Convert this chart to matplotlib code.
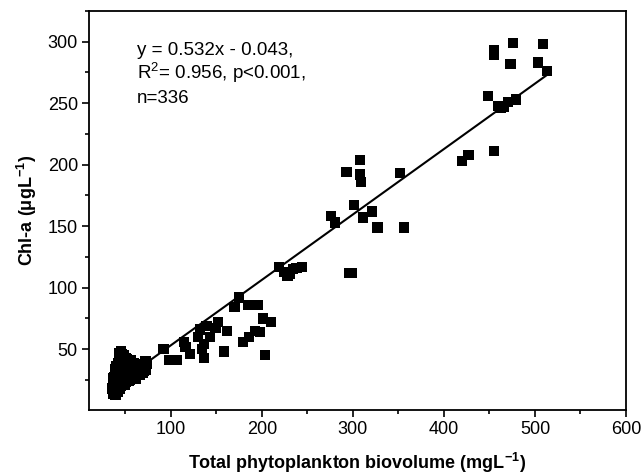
import matplotlib
matplotlib.use("Agg")
import matplotlib.pyplot as plt
import numpy as np
from matplotlib.ticker import MultipleLocator

plt.rcParams['font.family'] = ['Liberation Sans', 'DejaVu Sans']
plt.rcParams['mathtext.fontset'] = 'custom'
plt.rcParams['mathtext.rm'] = 'Liberation Sans'
plt.rcParams['mathtext.bf'] = 'Liberation Sans:bold'
plt.rcParams['mathtext.it'] = 'Liberation Sans:italic'

# ---- data ----
biovolume = [
    # dense low cluster
    35, 36, 37, 38, 38, 39, 40, 40, 41, 41, 42, 42, 43, 43, 44, 44, 45, 45, 46, 46,
    47, 47, 48, 48, 49, 49, 50, 50, 51, 51, 52, 52, 53, 54, 55, 56, 57, 58, 60, 62,
    64, 66, 68, 70, 72, 38, 40, 42, 44, 46, 48, 50, 45, 47, 43, 39, 41, 55, 58, 63,
    36, 37, 39, 42, 44, 48, 50, 53, 56, 59, 61, 63, 65, 67, 69, 71, 73, 74, 52, 54,
    57, 60, 62, 66, 70, 72, 49, 51, 45, 43,
    # low-mid
    92, 98, 106, 114, 116, 121, 130, 132, 134, 136, 136, 139, 143, 149, 152, 158, 162,
    170, 175, 179, 185, 186, 192, 196, 198, 201, 203, 210,
    # ~220-245
    219, 224, 228, 231, 234, 238, 244,
    # mid cluster
    276, 280, 293, 296, 299, 301, 308, 308, 309, 311, 321, 327, 352, 356,
    # upper
    420, 427, 455, 448, 455, 455, 459, 463, 466, 470, 473, 476, 479, 503, 509, 513,
]
chla = [
    # dense low cluster
    18, 22, 20, 25, 16, 28, 19, 32, 24, 17, 30, 21, 26, 35, 23, 38, 20, 29, 33, 41,
    25, 44, 36, 22, 30, 40, 27, 35, 38, 31, 29, 42, 34, 37, 30, 36, 32, 28, 38, 34,
    30, 36, 33, 37, 40, 27, 36, 39, 31, 46, 33, 28, 48, 37, 27, 34, 24, 25, 31, 35,
    14, 26, 13, 15, 18, 45, 43, 40, 41, 39, 37, 33, 29, 34, 31, 36, 33, 38, 26, 24,
    27, 30, 26, 29, 32, 35, 21, 23, 42, 47,
    # low-mid
    50, 41, 41, 56, 52, 46, 60, 66, 50, 54, 43, 69, 60, 67, 72, 48, 65,
    84, 92, 56, 86, 60, 65, 86, 64, 75, 45, 72,
    # ~220-245
    117, 113, 110, 111, 115, 116, 117,
    # mid cluster
    158, 153, 194, 112, 112, 167, 204, 192, 186, 157, 162, 149, 193, 149,
    # upper
    203, 208, 211, 256, 293, 289, 248, 246, 247, 251, 282, 299, 253, 283, 298, 276,
]
slope = 0.532
intercept = -0.043
annotation = ["y = 0.532x - 0.043,", "R$^{2}$= 0.956, p<0.001,", "n=336"]

fig = plt.figure(figsize=(6.44, 4.75), dpi=100)
ax = fig.add_axes([89/644, 1-410/475, (626-89)/644, (410-11)/475])

ax.scatter(biovolume, chla, marker='s', s=55, c='black', edgecolors='none', zorder=3)

xl = np.array([min(biovolume), max(biovolume)])
ax.plot(xl, slope*xl + intercept, color='black', lw=1.5, zorder=2)

ax.set_xlim(10, 600)
ax.set_ylim(0.5, 325)
ax.xaxis.set_minor_locator(MultipleLocator(50))
ax.yaxis.set_minor_locator(MultipleLocator(25))
ax.set_xticks([100, 200, 300, 400, 500, 600])
ax.set_yticks([50, 100, 150, 200, 250, 300])
ax.tick_params(which='major', direction='out', length=5, width=1.2, labelsize=13, pad=3)
ax.tick_params(which='minor', direction='out', length=3, width=1.2)
for s in ax.spines.values():
    s.set_linewidth(1.3)

ax.set_xlabel('Total phytoplankton biovolume (mgL$^{\\mathbf{-1}}$)', fontsize=13,
              fontweight='bold', labelpad=9)
ax.set_ylabel('Chl-a (\u03bcgL$^{\\mathbf{-1}}$)', fontsize=13, fontweight='bold', labelpad=6)

for i, line in enumerate(annotation):
    ax.text(0.089, 0.890 - i*0.06, line, transform=ax.transAxes, fontsize=13.5,
            va='baseline', ha='left')

fig.savefig('out.png', dpi=100)
